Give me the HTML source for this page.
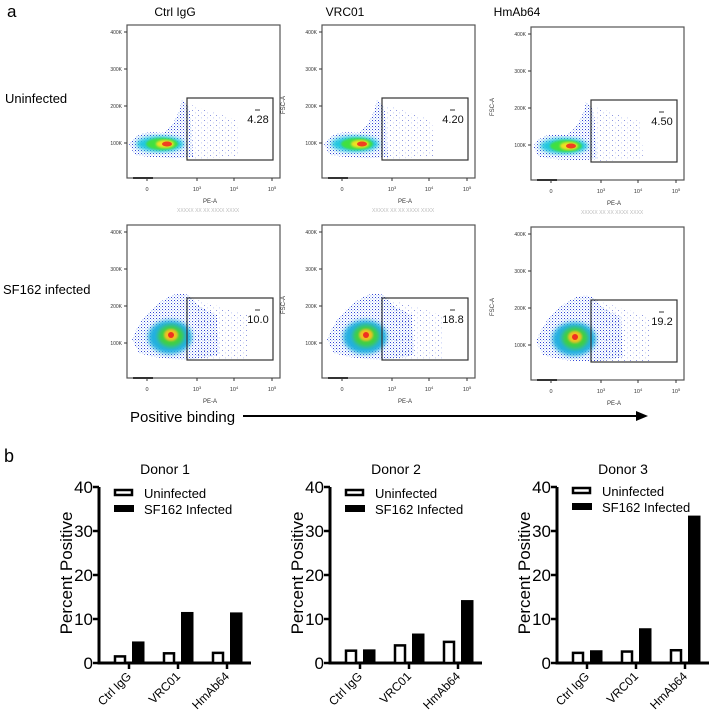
<!DOCTYPE html>
<html><head><meta charset="utf-8">
<style>
body{margin:0;background:#fff;}
svg{display:block;font-family:"Liberation Sans",Arial,sans-serif;}
</style></head>
<body>
<svg id="fig" width="714" height="720" viewBox="0 0 714 720">
<defs>
<pattern id="dots" width="3" height="3" patternUnits="userSpaceOnUse"><rect x="0" y="0" width="1" height="1" fill="#1a2fd0"/><rect x="1.5" y="1.5" width="0.8" height="0.8" fill="#3a7cf0"/></pattern>
<pattern id="sparse" width="6" height="5" patternUnits="userSpaceOnUse"><rect x="0" y="0" width="1" height="1" fill="#2030c0"/><rect x="3" y="2.5" width="0.8" height="0.8" fill="#4060e0"/></pattern>
<filter id="blur2"><feGaussianBlur stdDeviation="2"/></filter>
<filter id="blur1"><feGaussianBlur stdDeviation="1"/></filter>
</defs>
<text x="7" y="17" font-size="17">a</text>
<text x="4" y="462" font-size="18">b</text>
<g id="flow"></g>
<text x="130" y="422" font-size="15">Positive binding</text>
<line x1="243" y1="416" x2="640" y2="416" stroke="#000" stroke-width="2"/>
<polygon points="648,416 636,411 636,421" fill="#000"/>
<g id="bars"></g>
</svg>
<script>
const NS="http://www.w3.org/2000/svg";
function mk(p,tag,attrs,txt){const e=document.createElementNS(NS,tag);for(const k in attrs)e.setAttribute(k,attrs[k]);if(txt!==undefined)e.textContent=txt;p.appendChild(e);return e;}

// ---- flow cytometry panels ----
const antibodies=["Ctrl IgG","VRC01","HmAb64"];
const conditions=["Uninfected","SF162 infected"];
const gateValues=[["4.28","4.20","4.50"],["10.0","18.8","19.2"]];
const fsTicks=["400K","300K","200K","100K"];
const peTicks=["0","10","10","10"];
const peExp=["","3","4","5"];

const flow=document.getElementById('flow');
const colL=[127,322,531], colTitleX=[175,345,517];
antibodies.forEach((a,i)=>{
  const t=mk(flow,'text',{x:colTitleX[i],y:16,'font-size':12,'text-anchor':'middle'},a);
  
  
});
conditions.forEach((c,r)=>{
  const t=mk(flow,'text',{x:r?3:5,y:r?294:103,'font-size':13},c);
  
  
});
for(let r=0;r<2;r++)for(let c=0;c<3;c++){
  const L=colL[c], T=(r?225:25)+(c==2?2:0), W=153, H=153;
  const g=mk(flow,'g',{});
  
  
  if(r==0){
    mk(g,'path',{d:`M${L+2},${T+120} Q${L+10},${T+104} ${L+35},${T+108} Q${L+50},${T+100} ${L+55},${T+75} Q${L+64},${T+78} ${L+64},${T+100} L${L+66},${T+132} Q${L+40},${T+135} ${L+8},${T+130} Z`,fill:'url(#dots)',opacity:0.9});
    mk(g,'path',{d:`M${L+64},${T+80} L${L+110},${T+95} L${L+112},${T+132} L${L+64},${T+134} Z`,fill:'url(#sparse)',opacity:0.5});
    mk(g,'ellipse',{cx:L+33,cy:T+119,rx:24,ry:8,fill:'#20c8e0',filter:'url(#blur2)'});
    mk(g,'ellipse',{cx:L+35,cy:T+119,rx:16,ry:6,fill:'#40e040',filter:'url(#blur1)'});
    mk(g,'ellipse',{cx:L+38,cy:T+119,rx:9,ry:4,fill:'#f0e020',filter:'url(#blur1)'});
    mk(g,'ellipse',{cx:L+40,cy:T+119,rx:5,ry:2.5,fill:'#f04020'});
  } else {
    mk(g,'path',{d:`M${L+5},${T+115} Q${L+15},${T+85} ${L+45},${T+70} Q${L+65},${T+65} ${L+70},${T+80} L${L+90},${T+90} L${L+92},${T+130} Q${L+50},${T+140} ${L+12},${T+128} Z`,fill:'url(#dots)',opacity:0.9});
    mk(g,'path',{d:`M${L+70},${T+75} L${L+120},${T+90} L${L+120},${T+135} L${L+70},${T+135} Z`,fill:'url(#sparse)',opacity:0.5});
    mk(g,'ellipse',{cx:L+43,cy:T+112,rx:22,ry:17,fill:'#20b0e0',filter:'url(#blur2)'});
    mk(g,'ellipse',{cx:L+44,cy:T+111,rx:13,ry:11,fill:'#40d040',filter:'url(#blur2)'});
    mk(g,'ellipse',{cx:L+44,cy:T+110,rx:7,ry:6,fill:'#f0c020',filter:'url(#blur1)'});
    mk(g,'ellipse',{cx:L+44,cy:T+110,rx:3,ry:3,fill:'#f03020'});
  }
  const fr=mk(g,'rect',{x:L,y:T,width:W,height:H,fill:'none',stroke:'#555','stroke-width':1.2});
  
  
  fsTicks.forEach((s,k)=>{
    const y=T+7+37*k;
    mk(g,'line',{x1:L-3,y1:y,x2:L,y2:y,stroke:'#333'});
    mk(g,'text',{x:L-5,y:y+2,'font-size':5,'text-anchor':'end',fill:'#333'},s);
  });
  const px=[20,70,107,145];
  peTicks.forEach((s,k)=>{
    mk(g,'line',{x1:L+px[k],y1:T+H,x2:L+px[k],y2:T+H+3,stroke:'#333'});
    const t=mk(g,'text',{x:L+px[k],y:T+H+13,'font-size':5.5,'text-anchor':'middle',fill:'#333'},s);
    if(peExp[k]) mk(t,'tspan',{dy:-2,'font-size':4},peExp[k]);
  });
  mk(g,'rect',{x:L+6,y:T+H-1,width:20,height:2,fill:'#333'});
  mk(g,'text',{x:L+83,y:T+H+25,'font-size':6,'text-anchor':'middle',fill:'#333'},'PE-A');
  if(c>0){ mk(g,'text',{x:L-37,y:T+80,'font-size':6,'text-anchor':'middle',fill:'#333',transform:`rotate(-90 ${L-37} ${T+80})`},'FSC-A'); }
  if(r==0) mk(g,'text',{x:L+50,y:T+H+34,'font-size':5,fill:'#bbb'},'XXXXX XX XX  XXXX XXXX');
  const gr=mk(g,'rect',{x:L+60,y:T+73,width:86,height:62,fill:'none',stroke:'#333','stroke-width':1.2});
  
  
  mk(g,'line',{x1:L+128,y1:T+85,x2:L+133,y2:T+85,stroke:'#333'});
  const v=mk(g,'text',{x:L+131,y:T+98,'font-size':11,'text-anchor':'middle',fill:'#111'},gateValues[r][c]);
  
  
}

// ---- bar charts ----
const donors=["Donor  1","Donor 2","Donor 3"];
const categories=["Ctrl IgG","VRC01","HmAb64"];
const uninfected=[[1.5,2.2,2.3],[2.8,4.0,4.8],[2.3,2.6,2.9]];
const infected=[[4.9,11.6,11.5],[3.1,6.7,14.3],[2.9,7.9,33.5]];
const yTicks=[0,10,20,30,40];
const seriesNames=["Uninfected","SF162 Infected"];

const bars=document.getElementById('bars');
const axisX=[99,330,557], y0=663, yTop=487, yMax=40;
const legY=[493,493,491];
function yS(v){return y0-(v/yMax)*(y0-yTop);}
donors.forEach((d,i)=>{
  const ax=axisX[i];
  const g=mk(bars,'g',{});
  
  
  const tt=mk(g,'text',{x:ax+66,y:474,'font-size':14,'text-anchor':'middle'},d);
  
  
  mk(g,'line',{x1:ax,y1:yTop,x2:ax,y2:y0,stroke:'#000','stroke-width':3});
  mk(g,'line',{x1:ax-1.5,y1:y0,x2:ax+152,y2:y0,stroke:'#000','stroke-width':3});
  yTicks.forEach(t=>{
    const y=yS(t);
    mk(g,'line',{x1:ax-6,y1:y,x2:ax,y2:y,stroke:'#000','stroke-width':2.5});
    const lt=mk(g,'text',{x:ax-6,y:y+6,'font-size':17,'text-anchor':'end'},t);
    
    
  });
  const yl=mk(g,'text',{x:ax-27,y:573,'font-size':17,'text-anchor':'middle',transform:`rotate(-90 ${ax-27} 573)`},'Percent Positive');
  
  
  categories.forEach((cat,k)=>{
    const cx=ax+30+49*k;
    mk(g,'line',{x1:cx,y1:y0,x2:cx,y2:y0+6,stroke:'#000','stroke-width':2.5});
    const cl=mk(g,'text',{x:cx+3,y:y0+14,'font-size':12,'text-anchor':'end',transform:`rotate(-45 ${cx+3} ${y0+14})`},cat);
    
    
    const u=uninfected[i][k], f=infected[i][k];
    const b1=mk(g,'rect',{x:cx-14,y:yS(u),width:10,height:y0-yS(u),fill:'#fff',stroke:'#000','stroke-width':2.5});
    
    
    const b2=mk(g,'rect',{x:cx+3,y:yS(f),width:12.5,height:y0-yS(f),fill:'#000'});
    
    
  });
  const ly=legY[i], lx=ax+15;
  const l1=mk(g,'g',{});
  
  
  mk(l1,'rect',{x:lx+1,y:ly-3,width:17,height:5,fill:'#fff',stroke:'#000','stroke-width':2.5});
  mk(l1,'text',{x:lx+30,y:ly+5,'font-size':13},seriesNames[0]);
  const l2=mk(g,'g',{});
  
  
  mk(l2,'rect',{x:lx,y:ly+12,width:20,height:7,fill:'#000'});
  mk(l2,'text',{x:lx+30,y:ly+21,'font-size':13},seriesNames[1]);
});
</script>
</body></html>
